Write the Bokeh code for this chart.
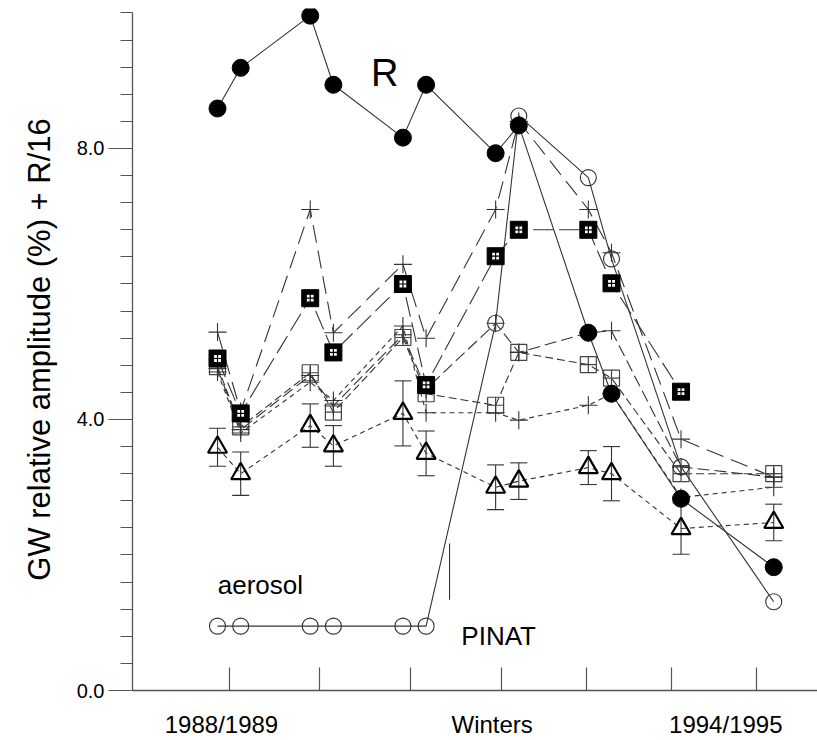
from bokeh.plotting import figure
from bokeh.models import (FixedTicker, Range1d, Label, Whisker, ColumnDataSource,
                          TeeHead, PrintfTickFormatter)
from bokeh.embed import file_html
from bokeh.resources import INLINE

# ---- data -----------------------------------------------------------------
# observation times (years): early and late part of each winter
x_obs = [1988.917, 1989.167, 1989.917, 1990.167, 1990.917, 1991.167,
         1991.917, 1992.167, 1992.917, 1993.167, 1993.917, 1994.917]
# winter tick marks on the time axis
winter_ticks = [1989.046, 1990.021, 1990.999, 1991.977, 1992.894, 1993.811, 1994.728]
# axis captions under the time axis
cap_pos = [1988.96, 1991.88, 1994.40]
cap_text = ["1988/1989", "Winters", "1994/1995"]
y_major = [0.0, 4.0, 8.0]
y_minor = [round(0.4 * k, 1) for k in range(26)]

# sunspot number R/16
r16 = [8.59, 9.19, 9.96, 8.94, 8.16, 8.94, 7.93, 8.34, 5.28, 4.38, 2.83, 1.82]
# aerosol (PINATUBO)
aerosol = [0.95, 0.95, 0.95, 0.95, 0.95, 0.95, 5.42, 8.48, 7.57, 6.37, 3.30, 1.31]
# GW relative amplitude series
gw_fsq = [4.90, 4.09, 5.79, 4.99, 6.00, 4.51, 6.41, 6.80, 6.80, 6.01, 4.41, float("nan")]
gw_plus_hi = [5.29, 4.12, 7.10, 5.28, 6.29, 5.20, 7.10, 8.40, 7.10, 6.46, 3.71, 3.15]
gw_plus_mid = [4.75, 3.85, 4.65, 4.20, 5.25, 4.45, 5.42, 4.99, 5.28, 5.31, 3.30, 3.15]
gw_plus_lo = [4.70, 3.80, 4.55, 4.28, 5.38, 4.10, 4.10, 3.99, 4.21, 4.38, 2.85, 3.00]
gw_osq = [4.78, 3.89, 4.69, 4.11, 5.21, 4.38, 4.21, 4.99, 4.81, 4.61, 3.20, 3.20]
gw_tri = [3.59, 3.20, 3.91, 3.61, 4.09, 3.50, 3.00, 3.09, 3.29, 3.20, 2.39, 2.48]
gw_tri_err = [0.28, 0.32, 0.32, 0.30, 0.48, 0.33, 0.33, 0.27, 0.25, 0.40, 0.38, 0.27]

pinat_x = [1991.42, 1991.42]
pinat_y = [1.34, 2.17]

# ---- figure ---------------------------------------------------------------
FONT = "Liberation Sans"
p = figure(frame_width=685, frame_height=682, output_backend="svg",
           toolbar_location=None, x_range=Range1d(1988.0, 1995.389),
           y_range=Range1d(0, 10.066), min_border_left=132, min_border_right=0,
           min_border_top=8, min_border_bottom=46)
p.outline_line_color = None
p.grid.visible = False
p.background_fill_color = "white"

ax_col = "#555555"
# y axis
ya = p.yaxis[0]
ya.ticker = FixedTicker(ticks=y_major, minor_ticks=y_minor)
ya.formatter = PrintfTickFormatter(format="%.1f")
ya.bounds = (0, 10)
ya.major_tick_out = 24
ya.major_tick_in = 0
ya.minor_tick_out = 12
ya.minor_tick_in = 0
ya.axis_line_color = ax_col
ya.major_tick_line_color = ax_col
ya.minor_tick_line_color = ax_col
ya.axis_line_width = 1.3
ya.major_label_text_font = FONT
ya.major_label_text_font_size = "20px"
ya.major_label_text_color = "black"
ya.major_label_standoff = 4
ya.axis_label = "GW relative amplitude (%) + R/16"
ya.axis_label_text_font = FONT
ya.axis_label_text_font_size = "31px"
ya.axis_label_text_font_style = "normal"
ya.axis_label_text_color = "black"
ya.axis_label_standoff = 17

# x axis: winter tick marks as (inward) minor ticks, captions as labels
xa = p.xaxis[0]
xa.ticker = FixedTicker(ticks=cap_pos, minor_ticks=winter_ticks)
xa.major_label_overrides = {pos: t for pos, t in zip(cap_pos, cap_text)}
xa.major_tick_in = 0
xa.major_tick_out = 0
xa.minor_tick_in = 23
xa.minor_tick_out = 0
xa.axis_line_color = ax_col
xa.minor_tick_line_color = ax_col
xa.minor_tick_line_width = 1.2
xa.axis_line_width = 1.3
xa.major_label_text_font = FONT
xa.major_label_text_font_size = "24px"
xa.major_label_text_color = "black"
xa.major_label_standoff = 20

LC = "#333333"
LW = 1.1

# lines
p.line(x_obs, gw_tri, line_color=LC, line_width=LW, line_dash="5 4")
p.line(x_obs, gw_plus_lo, line_color=LC, line_width=LW, line_dash="5 4")
p.line(x_obs, gw_osq, line_color=LC, line_width=LW, line_dash="8 4")
p.line(x_obs, gw_plus_mid, line_color=LC, line_width=LW, line_dash="12 5")
p.line(x_obs, gw_plus_hi, line_color=LC, line_width=LW, line_dash="18 8")
p.line(x_obs, gw_fsq, line_color=LC, line_width=LW, line_dash="20 6")
p.line(x_obs, aerosol, line_color=LC, line_width=LW)
p.line(x_obs, r16, line_color=LC, line_width=LW)
p.line(pinat_x, pinat_y, line_color=LC, line_width=LW)

# error bars on triangles
src = ColumnDataSource(dict(x=x_obs,
                            lo=[v - e for v, e in zip(gw_tri, gw_tri_err)],
                            hi=[v + e for v, e in zip(gw_tri, gw_tri_err)]))
p.add_layout(Whisker(base="x", lower="lo", upper="hi", source=src,
                     line_color=LC, line_width=LW,
                     upper_head=TeeHead(size=17, line_color=LC, line_width=LW),
                     lower_head=TeeHead(size=17, line_color=LC, line_width=LW)))

# markers
p.scatter(x_obs, gw_tri, marker="triangle", size=19, fill_color=None,
          line_color="black", line_width=2.2)
p.scatter(x_obs, gw_osq, marker="square_cross", size=16, fill_color=None,
          line_color="#444444", line_width=1.2)
for ser in (gw_plus_lo, gw_plus_mid, gw_plus_hi):
    p.scatter(x_obs, ser, marker="cross", size=18, line_color="#333333", line_width=1.1)
p.scatter(x_obs, aerosol, marker="circle", size=16, fill_color=None,
          line_color="#333333", line_width=1.1)
p.scatter(x_obs, gw_fsq, marker="square", size=17, fill_color="black",
          line_color="black")
p.scatter(x_obs, gw_fsq, marker="square_cross", size=8, fill_color="white",
          line_color="black", line_width=1.2)
p.scatter(x_obs, r16, marker="circle", size=17, fill_color="black",
          line_color="black")

# texts inside the plot
def lab(x, y, t, size):
    p.add_layout(Label(x=x, y=y, text=t, text_font=FONT, text_font_size=size,
                       text_align="center", text_baseline="middle",
                       text_color="black"))

lab(1990.72, 9.12, "R", "38px")
lab(1989.38, 1.55, "aerosol", "26px")
lab(1991.95, 0.81, "PINAT", "26px")

open("out.html", "w").write(file_html(p, INLINE))
